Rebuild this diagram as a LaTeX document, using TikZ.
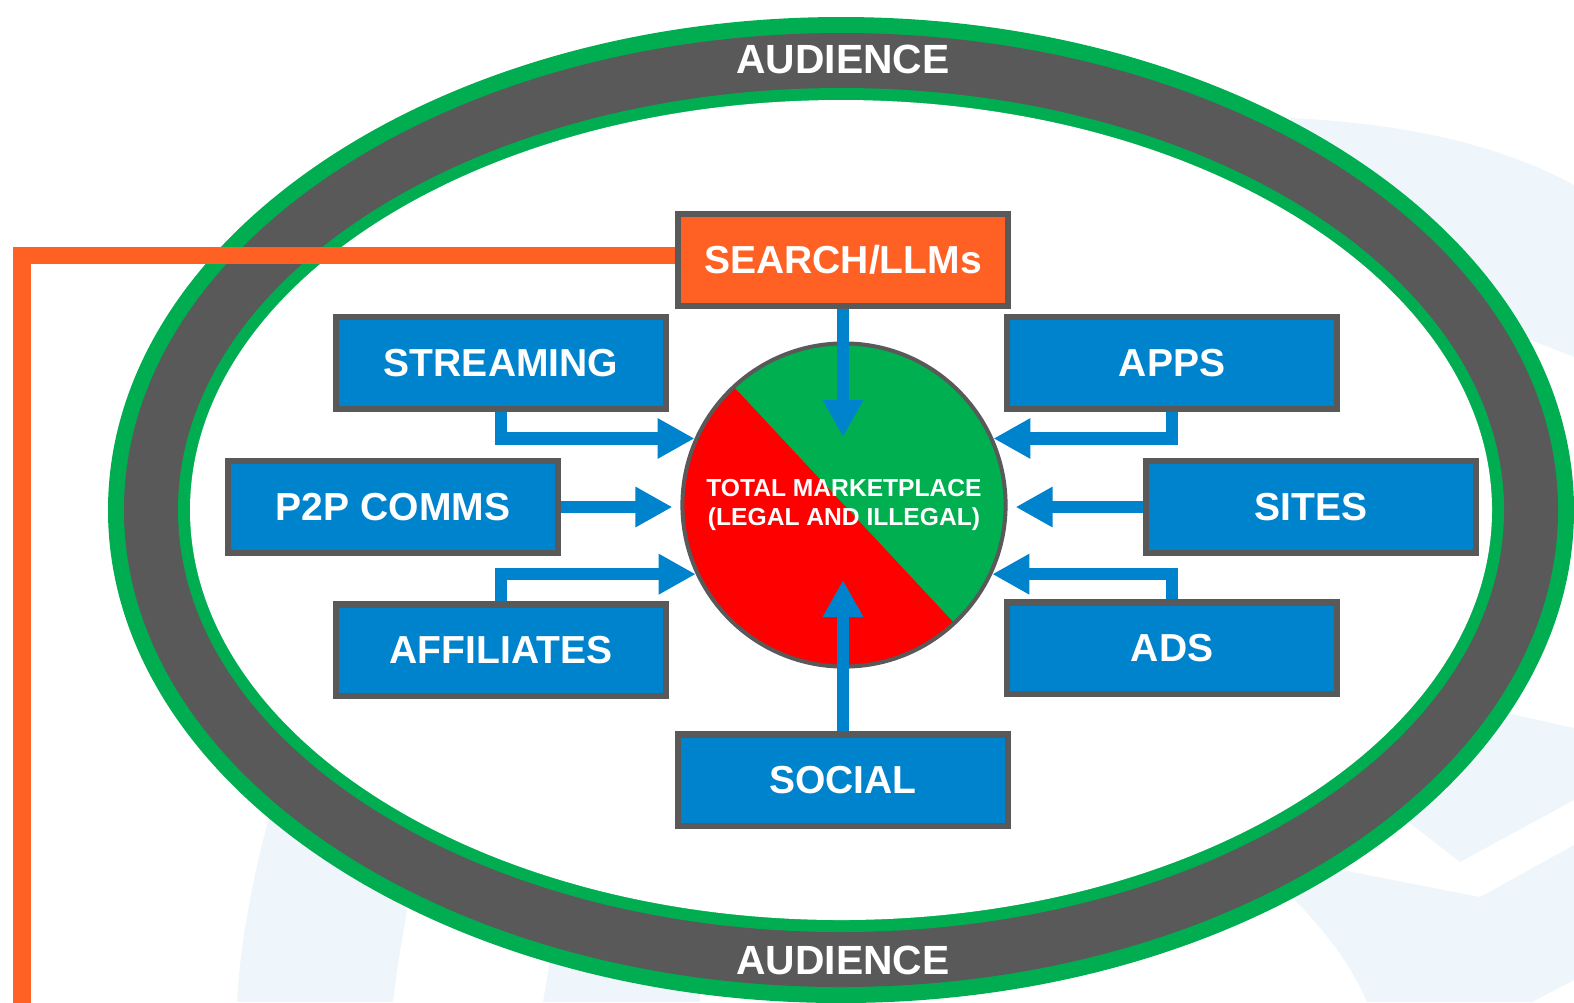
\documentclass[tikz,border=0pt]{standalone}
\usepackage{fontspec}
\setmainfont{Liberation Sans}
\usepackage{tikz}
\usetikzlibrary{arrows.meta,calc}
\definecolor{ringgreen}{RGB}{0,173,80}
\definecolor{ringgray}{RGB}{89,89,89}
\definecolor{channelblue}{RGB}{0,131,205}
\definecolor{searchorange}{RGB}{255,97,36}
\definecolor{illegalred}{RGB}{255,0,0}
\definecolor{legalgreen}{RGB}{0,176,80}
\definecolor{watermark}{RGB}{238,246,251}

\begin{document}
\begin{tikzpicture}[x=0.01cm, y=0.01cm,
    channel/.style={rectangle, fill=channelblue, draw=ringgray, line width=0.6mm,
        minimum width=3.29cm, minimum height=0.91cm, inner sep=0pt,
        text=white, font=\fontsize{11.1}{13}\selectfont\bfseries},
    flow/.style={draw=channelblue, line width=1.25mm, -{Triangle[length=3.7mm, width=3.8mm]}},
    ringlabel/.style={text=white, inner sep=0pt, font=\fontsize{11.6}{13}\selectfont\bfseries}]
    \useasboundingbox (0,0) rectangle (1574,-1002);

    % Draw faint background marks
    \fill[watermark] (1290,-118) .. controls (1420,-124) and (1510,-150) .. (1574,-185)
        -- (1574,-357) -- (1300,-250) -- cycle;
    \fill[watermark] (1574,-728) -- (1574,-800) -- (1460,-862) -- (1380,-800) -- (1450,-700) -- cycle;
    \fill[watermark] (1240,-850) .. controls (1300,-900) and (1345,-950) .. (1367,-1002)
        -- (1532,-1002) -- (1574,-980) -- (1574,-845) -- (1480,-897) -- cycle;
    \fill[watermark] (285,-760) .. controls (255,-860) and (240,-940) .. (237,-1002)
        -- (393,-1002) .. controls (398,-960) and (405,-920) .. (420,-840) -- cycle;
    \fill[watermark] (560,-900) -- (543,-1002) -- (700,-1002) -- (700,-900) -- cycle;

    % Draw audience ring
    \fill[ringgreen] (841,-510) ellipse [x radius=733, y radius=493];
    \fill[ringgray] (841,-510) ellipse [x radius=717, y radius=477];
    \fill[ringgreen] (841,-510) ellipse [x radius=663, y radius=422];
    \fill[white] (841,-510) ellipse [x radius=651, y radius=410];
    \node[ringlabel] (audtop) at (843,-59) {AUDIENCE};
    \node[ringlabel] (audbot) at (843,-960) {AUDIENCE};

    % Draw marketplace circle
    \node[circle, draw=ringgray, line width=0.4mm, fill=legalgreen, minimum size=3.23cm,
        inner sep=0pt, align=center, text=white, font=\fontsize{7}{8.3}\selectfont\bfseries,
        path picture={\fill[illegalred] ($(path picture bounding box.center)+(133:3cm)$)
            -- ($(path picture bounding box.center)+(223:3cm)$)
            -- ($(path picture bounding box.center)+(313:3cm)$) -- cycle;}]
        (market) at (844,-505) {TOTAL MARKETPLACE\\(LEGAL AND ILLEGAL)};

    % Draw channel boxes
    \node[channel, fill=searchorange] (search) at (843,-260) {SEARCH/LLMs};
    \node[channel] (streaming) at (501,-363) {STREAMING};
    \node[channel] (p2p) at (393,-507) {P2P COMMS};
    \node[channel] (affiliates) at (501,-650) {AFFILIATES};
    \node[channel] (apps) at (1172,-363) {APPS};
    \node[channel] (sites) at (1311,-507) {SITES};
    \node[channel] (ads) at (1172,-648) {ADS};
    \node[channel] (social) at (843,-780) {SOCIAL};

    % Draw search link to the page edge
    \coordinate (sidelink) at (22,-1012);
    \draw[searchorange, line width=1.7mm] ([yshift=0.45mm]search.west) -| (sidelink);

    % Draw flows into the marketplace
    \draw[flow] (streaming.south) |- (market.156);
    \draw[flow] (affiliates.north) |- (market.205);
    \draw[flow] (apps.south) |- (market.24);
    \draw[flow] (ads.north) |- (market.-25);
    \draw[flow, shorten >=0.8mm] (p2p.east) -- (p2p.east -| market.west);
    \draw[flow, shorten >=0.8mm] (sites.west) -- (sites.west -| market.east);
    \draw[flow, shorten >=6.8mm] (search.south) -- (search.south |- market.center);
    \draw[flow, shorten >=7.5mm] (social.north) -- (social.north |- market.center);
\end{tikzpicture}
\end{document}
